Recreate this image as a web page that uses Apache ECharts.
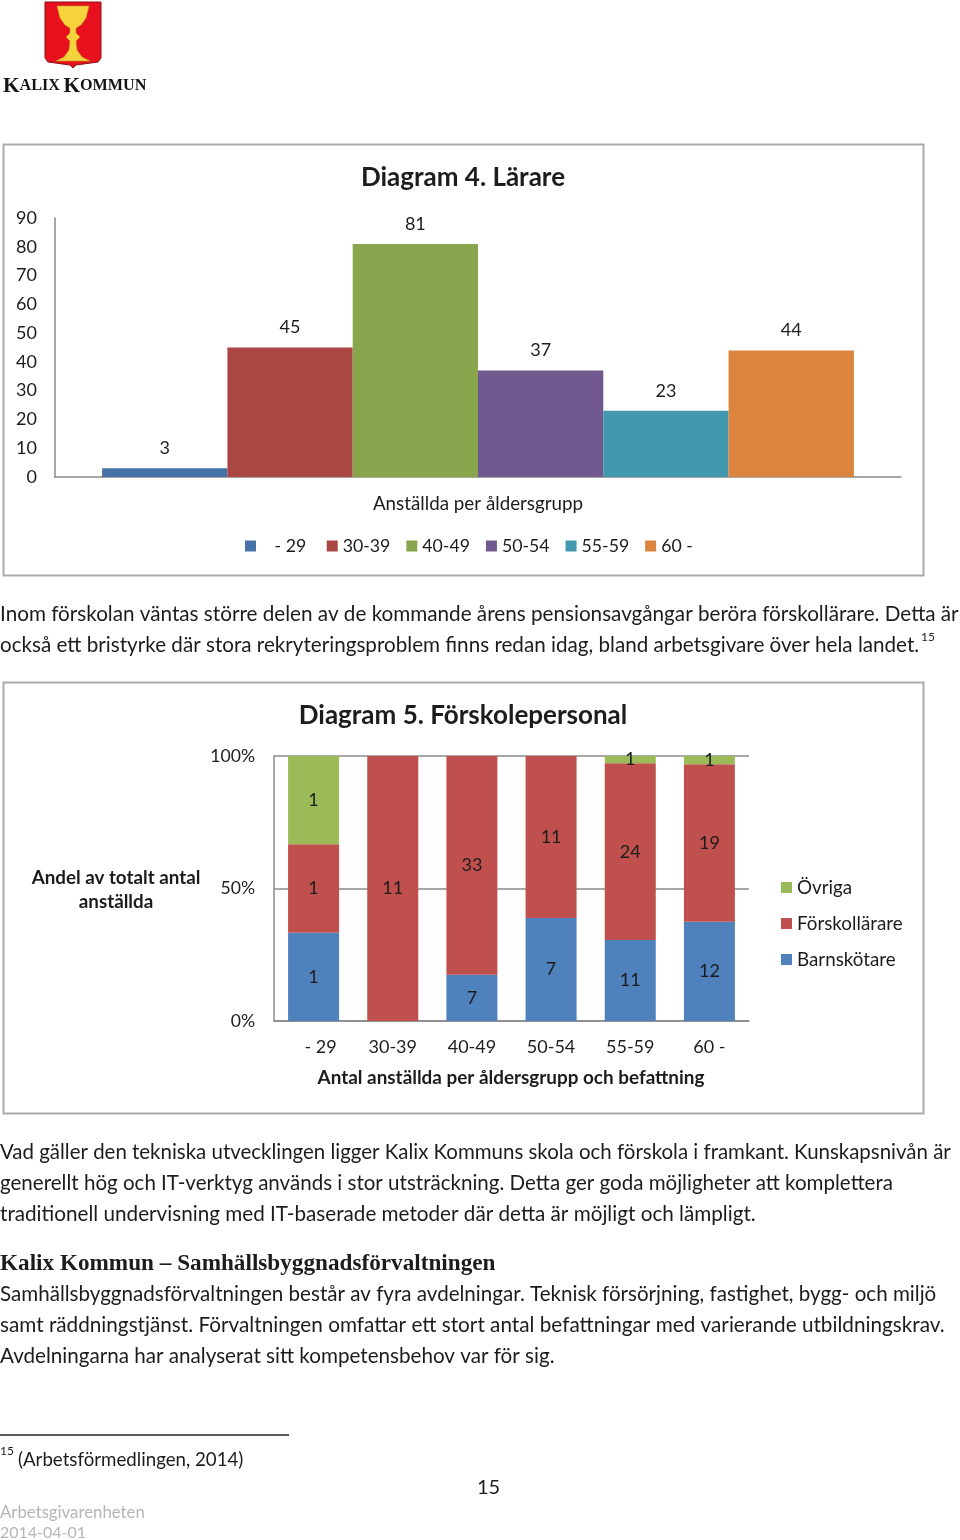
<!DOCTYPE html>
<html><head><meta charset="utf-8">
<style>html,body{margin:0;padding:0;background:#fff}#c{width:960px;height:1540px}</style>
<script src="https://cdn.jsdelivr.net/npm/echarts@6/dist/echarts.min.js"></script>
</head><body><div id="c"></div>
<script>
// Diagram 4
const ageGroups4 = ['- 29','30-39','40-49','50-54','55-59','60 -'];
const values4 = [3,45,81,37,23,44];
const colors4 = ['#4572A7','#AA4643','#89A54E','#71588F','#4198AF','#DB843D'];
const ticks4 = [0,10,20,30,40,50,60,70,80,90];
// Diagram 5
const ageGroups5 = ['   - 29','30-39','40-49','50-54','55-59','60 -'];
const barnskotare = [1,0,7,7,11,12];
const forskollarare = [1,11,33,11,24,19];
const ovriga = [1,0,0,0,1,1];
const bodyFont = 'Lato';
const ink = '#1c1c1c';
const para1 = [
 ['Inom förskolan väntas större delen av de kommande årens pensionsavgångar beröra förskollärare. Detta är',614,20.68],
 ['också ett bristyrke där stora rekryteringsproblem finns redan idag, bland arbetsgivare över hela landet.',645,20.65]];
const para2 = [
 ['Vad gäller den tekniska utvecklingen ligger Kalix Kommuns skola och förskola i framkant. Kunskapsnivån är',1152,20.47],
 ['generellt hög och IT-verktyg används i stor utsträckning. Detta ger goda möjligheter att komplettera',1183,20.55],
 ['traditionell undervisning med IT-baserade metoder där detta är möjligt och lämpligt.',1214,20.68]];
const para3 = [
 ['Samhällsbyggnadsförvaltningen består av fyra avdelningar. Teknisk försörjning, fastighet, bygg- och miljö',1294,20.58],
 ['samt räddningstjänst. Förvaltningen omfattar ett stort antal befattningar med varierande utbildningskrav.',1325,20.73],
 ['Avdelningarna har analyserat sitt kompetensbehov var för sig.',1356,20.63]];

const txt = (text,x,y,o={}) => ({type:'text',x,y,silent:true,style:Object.assign({text,fill:ink,font:`20.6px ${bodyFont}`,textVerticalAlign:'middle'},o)});
const totals = barnskotare.map((v,i)=>v+forskollarare[i]+ovriga[i]);
const pct = arr => arr.map((v,i)=>({value:v/totals[i]*100,raw:v}));

const elements = [
 {type:'rect',shape:{x:3.5,y:144.5,width:920,height:431},style:{fill:'none',stroke:'#ababab',lineWidth:2}},
 {type:'rect',shape:{x:3.5,y:682.5,width:920,height:431},style:{fill:'none',stroke:'#ababab',lineWidth:2}},
 // logo
 {type:'polygon',shape:{points:[[45,2],[101,2],[101,58],[98,62],[76,65],[73,68],[70,65],[48,62],[45,58]]},style:{fill:'#e8101c',stroke:'#8c1018',lineWidth:1}},
 {type:'polygon',shape:{points:[[57,6],[89,6],[86,18],[81,25],[76,28],[76,33],[80,37],[76,41],[77,50],[82,57],[90,61],[56,61],[64,57],[69,50],[70,41],[66,37],[70,33],[70,28],[65,25],[60,18]]},style:{fill:'#f6d23c',stroke:'#b79a2a',lineWidth:.6}},
 {type:'text',x:3,y:86,style:{rich:{a:{font:'bold 21.3px "Liberation Serif"',fill:'#151515'},b:{font:'bold 16.2px "Liberation Serif"',fill:'#151515'}},text:'{a|K}{b|ALIX} {a|K}{b|OMMUN}',textVerticalAlign:'middle'}},
 txt('Kalix Kommun – Samhällsbyggnadsförvaltningen',0,1264,{font:'bold 23.2px "Liberation Serif"'}),
 txt('15',921,637,{font:'12px '+bodyFont}),
 {type:'line',shape:{x1:0,y1:1435,x2:289,y2:1435},style:{stroke:'#222',lineWidth:1.5}},
 txt('15',0,1451,{font:'12px '+bodyFont}),
 txt('(Arbetsförmedlingen, 2014)',18,1460,{font:'18.7px '+bodyFont}),
 txt('15',477,1488,{font:'20px '+bodyFont}),
 txt('Arbetsgivarenheten',0,1513,{font:'16.8px '+bodyFont,fill:'#b5b5b5'}),
 txt('2014-04-01',0,1533,{font:'16px '+bodyFont,fill:'#b5b5b5'}),
 txt('Andel av totalt antal',116,878,{font:'bold 18.8px '+bodyFont,textAlign:'center'}),
 txt('anställda',116,902,{font:'bold 18.8px '+bodyFont,textAlign:'center'}),
 txt('Antal anställda per åldersgrupp och befattning',511,1078,{font:'bold 18.9px '+bodyFont,textAlign:'center'}),
];
[...para1,...para2,...para3].forEach(([t,y,s])=>elements.push(txt(t,0,y,{font:`${s}px ${bodyFont}`})));

const labelStyle = {fontFamily:bodyFont,fontSize:18,color:ink};
const wordStyle = {...labelStyle,fontSize:18.8};
const series4 = ageGroups4.map((name,i)=>({
  name,type:'bar',xAxisIndex:0,yAxisIndex:0,barWidth:125.3,barGap:0,
  data:[values4[i]],itemStyle:{color:colors4[i]},
  label:{show:true,position:'top',distance:11,...labelStyle}
}));
const stacked = (name,arr,color)=>({
  name,type:'bar',stack:'share',xAxisIndex:1,yAxisIndex:1,barWidth:51,
  data:pct(arr),itemStyle:{color},
  label:{show:true,position:'inside',...labelStyle,padding:[4,0,0,0],formatter:p=>p.data.raw>0?String(p.data.raw):''}
});

const chart = echarts.init(document.getElementById('c'),null,{renderer:'canvas'});
chart.setOption({
  animation:false,
  backgroundColor:'#fff',
  title:[
   {text:'Diagram 4. Lärare',left:458,top:160,textAlign:'center',textStyle:{fontFamily:bodyFont,fontSize:26,fontWeight:'bold',color:ink}},
   {text:'Diagram 5. Förskolepersonal',left:458,top:698,textAlign:'center',textStyle:{fontFamily:bodyFont,fontSize:26,fontWeight:'bold',color:ink}}
  ],
  grid:[
   {left:55,width:846,top:218,height:259,containLabel:false},
   {left:274,width:475,top:756,height:265,containLabel:false}
  ],
  legend:[
   {data:ageGroups4,left:240,top:532,itemWidth:11,itemHeight:11,itemGap:16,icon:'rect',
    formatter:n=>n==='- 29'?'   - 29 ':n,textStyle:{...labelStyle,fontSize:17.7},selectedMode:false},
   {data:['Övriga','Förskollärare','Barnskötare'],orient:'vertical',left:776,top:873,itemWidth:11,itemHeight:11,itemGap:17,icon:'rect',
    textStyle:wordStyle,selectedMode:false}
  ],
  xAxis:[
   {gridIndex:0,type:'category',data:['Anställda per åldersgrupp'],axisTick:{show:false},
    axisLine:{lineStyle:{color:'#8a8a8a',width:1.5}},axisLabel:{...wordStyle,margin:17}},
   {gridIndex:1,type:'category',data:ageGroups5,axisTick:{show:false},
    axisLine:{lineStyle:{color:'#8a8a8a',width:1.5}},axisLabel:{...labelStyle,margin:17}}
  ],
  yAxis:[
   {gridIndex:0,type:'value',min:0,max:90,interval:10,splitLine:{show:false},axisTick:{show:false},
    axisLine:{show:true,lineStyle:{color:'#8a8a8a',width:1.5}},axisLabel:{...labelStyle,margin:18,align:'right'}},
   {gridIndex:1,type:'value',min:0,max:100,interval:50,splitLine:{show:true,lineStyle:{color:'#8a8a8a',width:1.5}},axisTick:{show:false},
    axisLine:{show:true,lineStyle:{color:'#8a8a8a',width:1.5}},axisLabel:{...labelStyle,fontSize:17.6,margin:19,formatter:'{value}%'}}
  ],
  series:[...series4,
    stacked('Barnskötare',barnskotare,'#4F81BD'),
    stacked('Förskollärare',forskollarare,'#C0504D'),
    stacked('Övriga',ovriga,'#9BBB59')],
  graphic:{elements}
});
</script></body></html>
